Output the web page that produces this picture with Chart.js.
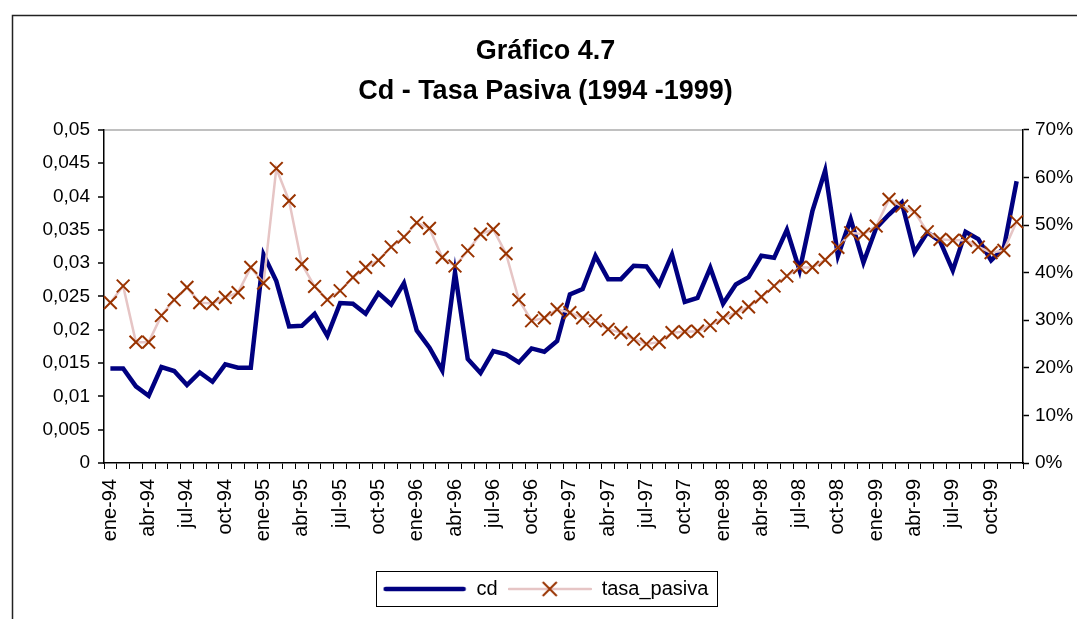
<!DOCTYPE html>
<html>
<head>
<meta charset="utf-8">
<script src="https://cdn.jsdelivr.net/npm/chart.js@4.4.1/dist/chart.umd.min.js"></script>
<style>
  html, body { margin: 0; padding: 0; background: #fff; }
  #wrap { width: 1077px; height: 619px; }
</style>
</head>
<body>
<div id="wrap"><canvas id="myChart" width="1077" height="619"></canvas></div>
<script>
// months ene-94 .. dic-99
const meses = ['ene', 'feb', 'mar', 'abr', 'may', 'jun', 'jul', 'ago', 'sep', 'oct', 'nov', 'dic'];
const anios = ['94', '95', '96', '97', '98', '99'];
const labels = [];
anios.forEach(a => meses.forEach(m => labels.push(m + '-' + a)));

const cd = [
    0.0142, 0.0142, 0.0115, 0.0101, 0.0144, 0.0138, 0.0117, 0.0136, 0.0122, 0.0148, 0.0143, 0.0143,
    0.0313, 0.0273, 0.0205, 0.0206, 0.0224, 0.0191, 0.0240, 0.0239, 0.0224, 0.0255, 0.0238, 0.0270,
    0.0199, 0.0173, 0.0139, 0.0286, 0.0156, 0.0135, 0.0168, 0.0163, 0.0151, 0.0172, 0.0167, 0.0183,
    0.0253, 0.0261, 0.0311, 0.0276, 0.0276, 0.0296, 0.0295, 0.0268, 0.0313, 0.0242, 0.0248, 0.0293,
    0.0239, 0.0268, 0.0279, 0.0311, 0.0308, 0.0350, 0.0289, 0.0378, 0.0439, 0.0311, 0.0366, 0.0301,
    0.0353, 0.0373, 0.0391, 0.0316, 0.0346, 0.0333, 0.0289, 0.0347, 0.0336, 0.0304, 0.0323, 0.0423
];

const tasa_pasiva = [
    0.337, 0.372, 0.254, 0.254, 0.310, 0.343, 0.369, 0.337, 0.335, 0.348, 0.358, 0.411,
    0.378, 0.619, 0.551, 0.418, 0.371, 0.343, 0.362, 0.390, 0.411, 0.426, 0.454, 0.475,
    0.505, 0.493, 0.432, 0.414, 0.446, 0.481, 0.491, 0.440, 0.343, 0.299, 0.305, 0.323,
    0.316, 0.305, 0.299, 0.281, 0.274, 0.260, 0.250, 0.254, 0.274, 0.276, 0.277, 0.289,
    0.305, 0.316, 0.328, 0.349, 0.372, 0.393, 0.411, 0.411, 0.427, 0.453, 0.484, 0.481,
    0.498, 0.554, 0.540, 0.528, 0.486, 0.470, 0.468, 0.468, 0.454, 0.442, 0.447, 0.507
];

const leftTicks = { min: 0, max: 0.05, step: 0.005 };
const rightTicks = { min: 0, max: 0.7, step: 0.1 };

const FONT = "'Liberation Sans', Arial, sans-serif";

// legend samples
function sample(withMarker) {
    const c = document.createElement('canvas');
    c.width = 84; c.height = 22;
    const g = c.getContext('2d');
    g.lineCap = 'round';
    if (withMarker) {
        g.strokeStyle = '#e6c5c5';
        g.lineWidth = 2.5;
        g.beginPath(); g.moveTo(1, 11); g.lineTo(83, 11); g.stroke();
        g.strokeStyle = '#993300';
        g.lineCap = 'butt';
        g.lineWidth = 2;
        g.beginPath();
        g.moveTo(35, 4); g.lineTo(49, 18);
        g.moveTo(49, 4); g.lineTo(35, 18);
        g.stroke();
    } else {
        g.strokeStyle = '#000080';
        g.lineWidth = 4.5;
        g.beginPath(); g.moveTo(3, 11); g.lineTo(81, 11); g.stroke();
    }
    return c;
}
const samples = { cd: sample(false), tasa_pasiva: sample(true) };

const framePlugin = {
    id: 'frame',
    beforeDraw(chart) {
        const ctx = chart.ctx;
        ctx.save();
        ctx.fillStyle = '#fff';
        ctx.fillRect(0, 0, chart.width, chart.height);
        ctx.strokeStyle = '#222';
        ctx.lineWidth = 1.5;
        ctx.beginPath();
        ctx.moveTo(12.5, chart.height);
        ctx.lineTo(12.5, 15.5);
        ctx.lineTo(chart.width, 15.5);
        ctx.stroke();
        ctx.restore();
    },
    afterDraw(chart) {
        const boxes = chart.legend.legendHitBoxes;
        if (!boxes || !boxes.length) return;
        const l = Math.min(...boxes.map(b => b.left)) - 7;
        const r = Math.max(...boxes.map(b => b.left + b.width)) + 8;
        const t = Math.min(...boxes.map(b => b.top)) - 8;
        const b = Math.max(...boxes.map(b => b.top + b.height)) + 7;
        const ctx = chart.ctx;
        ctx.save();
        ctx.strokeStyle = '#000';
        ctx.lineWidth = 1;
        ctx.strokeRect(Math.round(l) + 0.5, Math.round(t) + 0.5, Math.round(r - l), Math.round(b - t));
        ctx.restore();
    }
};

const config = {
    type: 'line',
    data: {
        labels: labels,
        datasets: [{
            label: 'cd',
            data: cd,
            yAxisID: 'y',
            borderColor: '#000080',
            backgroundColor: '#000080',
            borderWidth: 4.5,
            pointRadius: 0,
            tension: 0,
            order: 2
        }, {
            label: 'tasa_pasiva',
            data: tasa_pasiva,
            yAxisID: 'y1',
            borderColor: '#e6c5c5',
            backgroundColor: '#e6c5c5',
            borderWidth: 2.5,
            pointStyle: 'crossRot',
            pointRadius: 9,
            pointBorderColor: '#993300',
            pointBorderWidth: 2,
            tension: 0,
            order: 1
        }]
    },
    options: {
        responsive: false,
        animation: false,
        layout: {
            padding: { left: 14, right: 0, top: 15, bottom: 10 }
        },
        scales: {
            x: {
                offset: true,
                grid: {
                    offset: true,
                    drawOnChartArea: false,
                    color: '#000',
                    tickLength: 6
                },
                border: { color: '#000', width: 1.5 },
                ticks: {
                    autoSkip: false,
                    minRotation: 90,
                    maxRotation: 90,
                    padding: 10,
                    color: '#000',
                    font: { family: FONT, size: 20 },
                    callback: (v, i) => (i % 3 === 0 ? labels[i] : '')
                },
                afterFit: s => { s.height = 106; }
            },
            y: {
                position: 'left',
                min: leftTicks.min,
                max: leftTicks.max,
                grid: {
                    color: c => (c.tick && Math.abs(c.tick.value - leftTicks.max) < 1e-9 ? '#c0c0c0' : 'rgba(0,0,0,0)'),
                    lineWidth: 2,
                    tickColor: '#000',
                    tickWidth: 1.5,
                    tickLength: 6
                },
                border: { display: true, color: '#000', width: 1.5 },
                ticks: {
                    stepSize: leftTicks.step,
                    padding: 8,
                    color: '#000',
                    font: { family: FONT, size: 19 },
                    callback: v => String(Number(v.toFixed(3))).replace('.', ',')
                },
                afterFit: s => { s.width = 90; }
            },
            y1: {
                position: 'right',
                min: rightTicks.min,
                max: rightTicks.max,
                grid: {
                    drawOnChartArea: false,
                    color: '#000',
                    tickWidth: 1.5,
                    tickLength: 6
                },
                border: { color: '#000', width: 1.5 },
                ticks: {
                    stepSize: rightTicks.step,
                    padding: 6,
                    color: '#000',
                    font: { family: FONT, size: 19 },
                    callback: v => Math.round(v * 100) + '%'
                },
                afterFit: s => { s.width = 54; }
            }
        },
        plugins: {
            title: {
                display: true,
                text: ['Gráfico 4.7', 'Cd - Tasa Pasiva (1994 -1999)'],
                color: '#000',
                font: { family: FONT, size: 27, weight: 'bold', lineHeight: 1.48 },
                padding: { top: 17, bottom: 18 }
            },
            legend: {
                position: 'bottom',
                labels: {
                    usePointStyle: true,
                    pointStyleWidth: 84,
                    padding: 10,
                    color: '#000',
                    font: { family: FONT, size: 20 },
                    generateLabels: chart => {
                        const items = Chart.defaults.plugins.legend.labels.generateLabels(chart);
                        items.sort((a, b) => a.datasetIndex - b.datasetIndex);
                        items.forEach(it => { it.pointStyle = samples[it.text]; });
                        return items;
                    }
                }
            },
            tooltip: { enabled: false }
        }
    },
    plugins: [framePlugin]
};

const myChart = new Chart(document.getElementById('myChart'), config);
</script>
</body>
</html>
